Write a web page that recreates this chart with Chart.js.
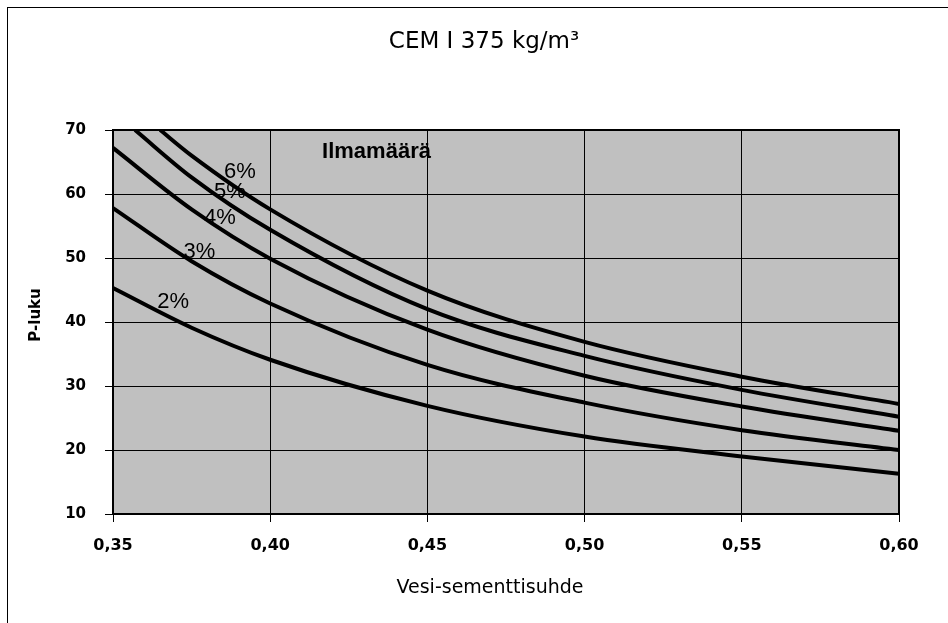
<!DOCTYPE html>
<html>
<head>
<meta charset="utf-8">
<title>CEM I 375 kg/m³</title>
<script src="https://cdn.jsdelivr.net/npm/chart.js@4.4.1/dist/chart.umd.min.js"></script>
<style>
  html, body { margin: 0; padding: 0; background: #fff; overflow: hidden; }
  #wrap { position: relative; width: 948px; height: 623px; }
  #frame { position: absolute; left: 7px; top: 7px; width: 2000px; height: 2000px;
           border-left: 1px solid #000; border-top: 1px solid #000; }
  canvas { position: absolute; left: 0; top: 0; }
</style>
</head>
<body>
<div id="wrap">
  <div id="frame"></div>
  <canvas id="chart" width="948" height="623"></canvas>
</div>
<script>
/* ── Données ── */
const xTicks = [0.35, 0.40, 0.45, 0.50, 0.55, 0.60];
const yTicks = [10, 20, 30, 40, 50, 60, 70];

const wc = [0.35, 0.375, 0.40, 0.45, 0.50, 0.55, 0.60];
const p2 = [45.3, 39.1, 34.1, 26.9, 22.1, 19.0, 16.3];
const p3 = [57.8, 49.5, 42.9, 33.3, 27.4, 23.1, 20.0];
const p4 = [67.2, 57.6, 49.9, 38.8, 31.6, 26.8, 23.0];

// 5 % et 6 % sortent du cadre en haut : elles commencent à 70
const wc5 = [0.357, 0.375, 0.40, 0.45, 0.50, 0.55, 0.60];
const p5 = [70, 62.6, 54.4, 42.0, 34.7, 29.4, 25.2];
const wc6 = [0.365, 0.375, 0.40, 0.45, 0.50, 0.55, 0.60];
const p6 = [70, 66.0, 57.6, 44.9, 36.9, 31.45, 27.2];

const seriesNames = ['2%', '3%', '4%', '5%', '6%'];

/* ── Étiquettes des courbes (en unités des axes) ── */
const curveLabels = [
  { text: '6%', x: 0.3904, y: 63.4 },
  { text: '5%', x: 0.3872, y: 60.3 },
  { text: '4%', x: 0.3840, y: 56.2 },
  { text: '3%', x: 0.3775, y: 50.9 },
  { text: '2%', x: 0.3691, y: 43.1 },
];
const legendTitle = { text: 'Ilmamäärä', x: 0.4165, y: 66.6 };

const FONT = "'DejaVu Sans', Verdana, sans-serif";
const ARIAL = "'Liberation Sans', Arial, sans-serif";

function pts(xs, ys) { return xs.map((x, i) => ({ x, y: ys[i] })); }

const seriesData = [pts(wc, p2), pts(wc, p3), pts(wc, p4), pts(wc5, p5), pts(wc6, p6)];

/* ── Fond gris, cadre et textes ── */
const decor = {
  id: 'decor',
  beforeDraw(chart) {
    const { ctx, chartArea: a } = chart;
    ctx.save();
    ctx.fillStyle = '#C0C0C0';
    ctx.fillRect(a.left, a.top, a.right - a.left, a.bottom - a.top);
    ctx.restore();
  },
  beforeDatasetsDraw(chart) {
    const { ctx, scales: { x, y } } = chart;
    ctx.save();
    ctx.fillStyle = '#000';
    ctx.textBaseline = 'middle';
    ctx.textAlign = 'center';
    ctx.font = '22px ' + ARIAL;
    curveLabels.forEach(l => ctx.fillText(l.text, x.getPixelForValue(l.x), y.getPixelForValue(l.y)));
    ctx.textAlign = 'left';
    ctx.font = 'bold 22px ' + ARIAL;
    ctx.fillText(legendTitle.text, x.getPixelForValue(legendTitle.x), y.getPixelForValue(legendTitle.y));
    ctx.restore();
  },
  afterDraw(chart) {
    const { ctx, chartArea: a } = chart;
    ctx.save();
    ctx.strokeStyle = '#000';
    ctx.lineWidth = 2;
    ctx.strokeRect(a.left, a.top, a.right - a.left, a.bottom - a.top);

    ctx.fillStyle = '#000';
    ctx.textAlign = 'center';
    ctx.textBaseline = 'middle';
    ctx.font = '23px ' + FONT;
    ctx.fillText('CEM I 375 kg/m³', 484, 42);

    ctx.font = '19px ' + FONT;
    ctx.fillText('Vesi-sementtisuhde', 490, 588);

    ctx.translate(36, 315);
    ctx.rotate(-Math.PI / 2);
    ctx.font = 'bold 15px ' + FONT;
    ctx.fillText('P-luku', 0, 0);
    ctx.restore();
  }
};

new Chart(document.getElementById('chart'), {
  type: 'line',
  data: {
    datasets: seriesData.map((d, i) => ({
      label: seriesNames[i],
      data: d,
      borderColor: '#000',
      borderWidth: 4,
      pointRadius: 0,
      fill: false,
      cubicInterpolationMode: 'monotone',
    }))
  },
  options: {
    responsive: false,
    animation: false,
    events: [],
    layout: { padding: { top: 130, right: 49, bottom: 0, left: 0 } },
    plugins: { legend: { display: false }, tooltip: { enabled: false }, title: { display: false } },
    scales: {
      x: {
        type: 'linear',
        min: 0.35, max: 0.60,
        afterFit: s => { s.height = 109; },
        afterBuildTicks: s => { s.ticks = xTicks.map(v => ({ value: v })); },
        grid: { color: '#000', lineWidth: 1, tickLength: 8 },
        border: { display: false },
        ticks: {
          color: '#000', padding: 14, maxRotation: 0,
          font: { family: FONT, size: 16, weight: 'bold' },
          callback: v => v.toFixed(2).replace('.', ',')
        }
      },
      y: {
        min: 10, max: 70,
        afterFit: s => { s.width = 113; },
        afterBuildTicks: s => { s.ticks = yTicks.map(v => ({ value: v })); },
        grid: { color: '#000', lineWidth: 1, tickLength: 8 },
        border: { display: false },
        ticks: {
          color: '#000', padding: 19,
          font: { family: FONT, size: 15, weight: 'bold' }
        }
      }
    }
  },
  plugins: [decor]
});
</script>
</body>
</html>
